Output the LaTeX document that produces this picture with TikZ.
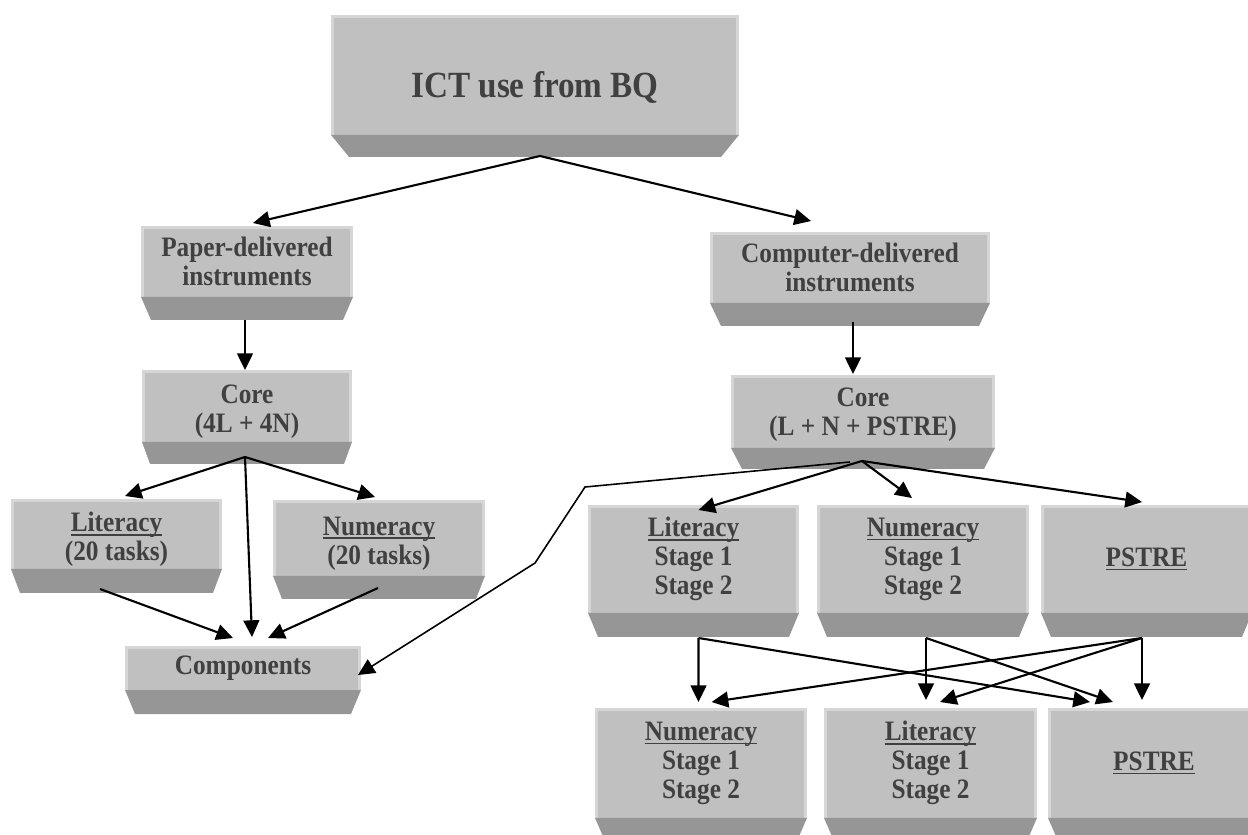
\documentclass[tikz,border=0pt]{standalone}
\usepackage{fontspec}
\setmainfont{Liberation Serif}[FakeStretch=0.9]
\usetikzlibrary{calc,arrows.meta}
\definecolor{faceGray}{RGB}{192,192,192}
\definecolor{faceLight}{RGB}{214,214,214}
\definecolor{bevelGray}{RGB}{150,150,150}
\definecolor{textGray}{RGB}{64,64,64}
\newsavebox{\uwbox}
\newcommand{\uword}[1]{\sbox{\uwbox}{#1}\rlap{\rule[-2.4pt]{\wd\uwbox}{1pt}}\usebox{\uwbox}}
\tikzset{
  face/.style={fill=faceGray,inner sep=0pt,outer sep=0pt,align=center,text=textGray,
    font=\bfseries\fontsize{16}{16.5}\selectfont,
    path picture={\draw[faceLight,line width=3pt] (path picture bounding box.south west) -- (path picture bounding box.north west) -- (path picture bounding box.north east) -- (path picture bounding box.south east);}},
  link/.style={-{Triangle[length=9.5pt,width=9pt]},line width=1.2pt,black},
}

\begin{document}
\begin{tikzpicture}[x=0.02cm,y=-0.02cm]
\path[use as bounding box] (0,0) rectangle (1248,835);

% faces
\node[face,minimum width=8.16cm,minimum height=2.40cm,font=\bfseries\fontsize{21}{22}\selectfont,text height=30pt,text depth=4pt] (ict) at (535,75) {ICT use from BQ};
\node[face,minimum width=4.24cm,minimum height=1.42cm] (paper) at (247,261.5) {Paper-delivered\\instruments};
\node[face,minimum width=5.60cm,minimum height=1.42cm] (comp) at (850,267.5) {Computer-delivered\\instruments};
\node[face,minimum width=4.20cm,minimum height=1.44cm] (coreL) at (247,406) {\rule{0pt}{16.5pt}Core\\(4L + 4N)};
\node[face,minimum width=5.28cm,minimum height=1.46cm] (coreR) at (863,411.5) {\rule{0pt}{14.7pt}Core\\(L + N + PSTRE)};
\node[face,minimum width=4.22cm,minimum height=1.40cm] (litL) at (116.5,534) {\rule{0pt}{17.6pt}\uword{Literacy}\\(20 tasks)};
\node[face,minimum width=4.24cm,minimum height=1.52cm] (numL) at (379,538) {\rule{0pt}{16.5pt}\uword{Numeracy}\\(20 tasks)};
\node[face,minimum width=4.72cm,minimum height=0.88cm] (compo) at (243,668) {Components};
\node[face,minimum width=4.22cm,minimum height=2.16cm] (litR) at (693.5,559) {\uword{Literacy}\\Stage 1\\Stage 2};
\node[face,minimum width=4.24cm,minimum height=2.16cm] (numR) at (923,559) {\uword{Numeracy}\\Stage 1\\Stage 2};
\node[face,minimum width=4.22cm,minimum height=2.16cm] (pstR) at (1146.5,559) {\uword{PSTRE}};
\node[face,minimum width=4.24cm,minimum height=2.20cm] (numB) at (701,763) {\uword{Numeracy}\\Stage 1\\Stage 2};
\node[face,minimum width=4.26cm,minimum height=2.20cm] (litB) at (930.5,763) {\uword{Literacy}\\Stage 1\\Stage 2};
\node[face,minimum width=4.24cm,minimum height=2.20cm] (pstB) at (1154,763) {\uword{PSTRE}};

% bevels
\fill[bevelGray] (ict.south west) -- (ict.south east) -- ($(ict.south east)+(-18,22)$) -- ($(ict.south west)+(18,22)$) -- cycle;
\fill[bevelGray] (paper.south west) -- (paper.south east) -- ($(paper.south east)+(-10,23)$) -- ($(paper.south west)+(10,23)$) -- cycle;
\fill[bevelGray] (comp.south west) -- (comp.south east) -- ($(comp.south east)+(-11,23)$) -- ($(comp.south west)+(11,23)$) -- cycle;
\fill[bevelGray] (coreL.south west) -- (coreL.south east) -- ($(coreL.south east)+(-8,22)$) -- ($(coreL.south west)+(8,22)$) -- cycle;
\fill[bevelGray] (coreR.south west) -- (coreR.south east) -- ($(coreR.south east)+(-11,21)$) -- ($(coreR.south west)+(11,21)$) -- cycle;
\fill[bevelGray] (litL.south west) -- (litL.south east) -- ($(litL.south east)+(-9,24)$) -- ($(litL.south west)+(9,24)$) -- cycle;
\fill[bevelGray] (numL.south west) -- (numL.south east) -- ($(numL.south east)+(-9,23)$) -- ($(numL.south west)+(9,23)$) -- cycle;
\fill[bevelGray] (compo.south west) -- (compo.south east) -- ($(compo.south east)+(-10,24)$) -- ($(compo.south west)+(10,24)$) -- cycle;
\fill[bevelGray] (litR.south west) -- (litR.south east) -- ($(litR.south east)+(-10,24)$) -- ($(litR.south west)+(10,24)$) -- cycle;
\fill[bevelGray] (numR.south west) -- (numR.south east) -- ($(numR.south east)+(-10,24)$) -- ($(numR.south west)+(10,24)$) -- cycle;
\fill[bevelGray] (pstR.south west) -- (pstR.south east) -- ($(pstR.south east)+(-10,24)$) -- ($(pstR.south west)+(10,24)$) -- cycle;
\fill[bevelGray] (numB.south west) -- (numB.south east) -- ($(numB.south east)+(-10,23)$) -- ($(numB.south west)+(10,23)$) -- cycle;
\fill[bevelGray] (litB.south west) -- (litB.south east) -- ($(litB.south east)+(-10,23)$) -- ($(litB.south west)+(10,23)$) -- cycle;
\fill[bevelGray] (pstB.south west) -- (pstB.south east) -- ($(pstB.south east)+(-10,23)$) -- ($(pstB.south west)+(10,23)$) -- cycle;

% paper side
\draw[link] ($(ict.south)+(5,21)$) -- ($(paper.north)+(6,-3)$);
\draw[link] ($(paper.south)+(-2,23)$) -- ($(coreL.north)+(-2,0)$);
\draw[link] ($(coreL.south)+(-2,15)$) -- ($(litL.north)+(8.5,-3)$);
\draw[link] ($(coreL.south)+(-2,15)$) -- ($(numL.north)+(-4,-3)$);
\draw[link] ($(coreL.south)+(-2,15)$) -- ($(compo.north)+(9,-9)$);
\draw[link] ($(litL.south)+(-16.5,20)$) -- ($(compo.north)+(-10,-8)$);
\draw[link] ($(numL.south)+(-1,12)$) -- ($(compo.north)+(25,-8)$);

% computer side
\draw[link] ($(ict.south)+(5,21)$) -- ($(comp.north)+(-39,-11)$);
\draw[link] ($(comp.south)+(3,19)$) -- ($(coreR.north)+(-10,-1)$);
\draw[link] ($(coreR.south)+(-1,13)$) -- ($(litR.north)+(5,5)$);
\draw[link] ($(coreR.south)+(-1,13)$) -- ($(numR.north)+(-11,-7)$);
\draw[link] ($(coreR.south)+(-1,13)$) -- ($(pstR.north)+(-4.5,-3)$);
\draw[link,line width=0.9pt] ($(coreR.south)+(-13,14)$) -- (585,487) -- (535,563) -- ($(compo.east)+(-3,7)$);

% stage 2 switches
\draw[link] ($(litR.south)+(5,25)$) -- ($(numB.north)+(-2.5,-6)$);
\draw[link] ($(litR.south)+(5,25)$) -- ($(pstB.north)+(-64,-6)$);
\draw[link] ($(numR.south)+(3,25)$) -- ($(litB.north)+(-4.5,-8)$);
\draw[link] ($(numR.south)+(3,25)$) -- ($(pstB.north)+(-41,-6)$);
\draw[link] ($(pstR.south)+(-4.5,25)$) -- ($(pstB.north)+(-12,-8)$);
\draw[link] ($(pstR.south)+(-4.5,25)$) -- ($(litB.north)+(9.5,-6)$);
\draw[link] ($(pstR.south)+(-4.5,25)$) -- ($(numB.north)+(10.6,-6)$);
\end{tikzpicture}
\end{document}
